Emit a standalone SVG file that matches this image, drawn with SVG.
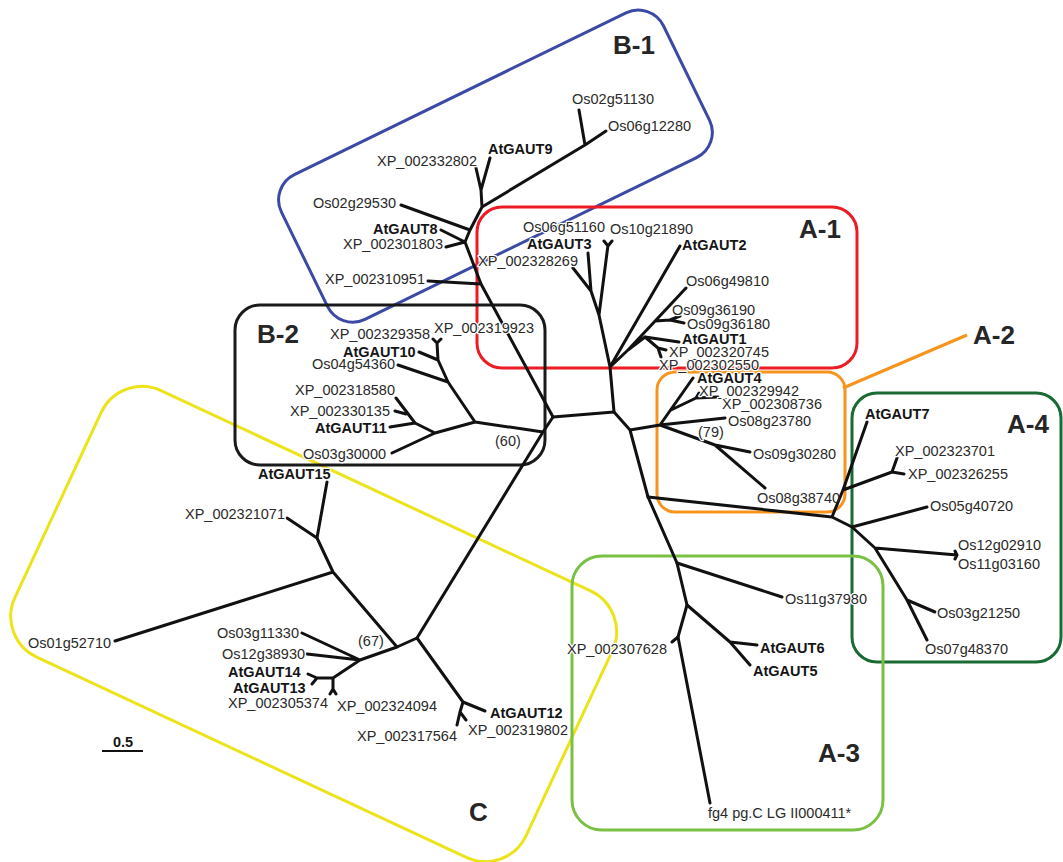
<svg xmlns="http://www.w3.org/2000/svg" width="1063" height="862" viewBox="0 0 1063 862">
<style>
.t{font-family:"Liberation Sans",Arial,sans-serif;font-size:14.5px;fill:#2a2a2a;stroke:#fff;stroke-width:2.5px;paint-order:stroke;stroke-linejoin:round}
.b{font-weight:bold;fill:#151515}
.big{font-family:"Liberation Sans",Arial,sans-serif;font-size:26px;font-weight:bold;fill:#262626}
.nh{stroke:none}
.br{fill:none;stroke:#111;stroke-width:3;stroke-linecap:round;stroke-linejoin:round}
.box{fill:none;stroke-width:3}
</style>
<rect width="1063" height="862" fill="#fff"/>
<g id="clusters">
  <g id="box-C"><rect class="box" x="266" y="286" width="564" height="294" rx="45" transform="rotate(25)" stroke="#ede31b"/></g>
  <g id="box-B1"><rect class="box" x="160" y="286" width="425" height="161" rx="28" transform="rotate(-26)" stroke="#3c4aa5"/></g>
  <g id="box-A1"><rect class="box" x="477" y="207" width="380" height="161" rx="25" stroke="#ed1c24"/></g>
  <g id="box-B2"><rect class="box" x="235" y="305" width="310" height="160" rx="25" stroke="#1a1a1a"/></g>
  <g id="box-A2"><rect class="box" x="657" y="372" width="188" height="140" rx="18" stroke="#f7941d"/><path d="M843 388 L967 335" stroke="#f7941d" stroke-width="3" fill="none"/></g>
  <g id="box-A4"><rect class="box" x="852" y="393" width="209" height="269" rx="25" stroke="#1a6a34"/></g>
  <g id="box-A3"><rect class="box" x="572" y="556" width="311" height="274" rx="30" stroke="#7ac143"/></g>
</g>
<g id="connectors" class="br">
  <path d="M553 417 L481 284 L465 242 L470 230 L482 207 L481 190 L476 168 M481 190 L490 158 M482 207 L585 145 L579 110 M585 145 L606 131 M470 230 L401 205 M465 242 L441 230 M465 242 L446 247 M481 284 L428 281"/>
  <path d="M553 417 L614 412 L610 367 L599 315 L591 291 L588 253 M591 291 L573 268 M599 315 L608 245 M604 241 L608 246 L612 241 M610 367 L680 246 M610 367 L628 350 L686 288 M655 321 L670 320 L680 316 M670 320 L684 323 M628 350 L645 337 L679 342 M645 337 L658 348 L666 350 M658 348 L661 357"/>
  <path d="M614 412 L630 430 L648 497 L677 563 L687 605 L678 637 L710 803 M630 430 L660 425 L693 378 M671 410 L696 398 L699 393 M696 398 L718 397 M660 425 L725 418 M660 425 L715 445 L750 452 M715 445 L765 488"/>
  <path d="M648 497 L832 517 L843 490 L867 422 M843 490 L892 472 L897 458 M892 472 L904 474 M832 517 L852 527 L927 507 M852 527 L875 548 L957 555 M955 551 L957 555 L955 559 M875 548 L907 600 L927 640 M907 600 L935 612"/>
  <path d="M677 563 L782 597 M687 605 L730 642 L757 645 M730 642 L750 665 M678 637 L672 642"/>
  <path d="M553 417 L543 432 L417 638 M543 432 L475 422 M475 422 L448 382 L398 365 M448 382 L438 360 L419 352 M438 360 L437 343 L433 339 M437 343 L441 339 M475 422 L435 433 L392 453 M435 433 L415 423 L390 427 M415 423 L396 398 M406 414 L395 411"/>
  <path d="M417 638 L397 647 L333 572 L317 538 L327 482 M317 538 L287 518 M333 572 L115 641 M397 647 L360 660 L302 633 M360 660 L307 654 M360 660 L333 678 L317 678 L308 674 M317 678 L312 684 M333 678 L333 691 M330 694 L333 689 L336 694 M417 638 L463 702 L485 711 M463 702 L460 712 L457 725 M460 712 L466 720"/>
  <path d="M102 751 L143 751" stroke-width="2" stroke-linecap="butt"/>
</g>
<g id="labels">
  <g id="lab-B1"><text class="big" x="613" y="54">B-1</text></g>
  <g id="lab-A1"><text class="big" x="799" y="238">A-1</text></g>
  <g id="lab-A2"><text class="big" x="973" y="344">A-2</text></g>
  <g id="lab-A4"><text class="big" x="1007" y="433">A-4</text></g>
  <g id="lab-B2"><text class="big" x="257" y="343">B-2</text></g>
  <g id="lab-A3"><text class="big" x="818" y="762">A-3</text></g>
  <g id="lab-C"><text class="big" x="469" y="821">C</text></g>
  <g id="scale"><text class="t b nh" x="113" y="747" font-size="14">0.5</text></g>
</g>
<g id="leaves">
  <g id="n1"><text class="t" x="572" y="103.5">Os02g51130</text></g>
  <g id="n2"><text class="t" x="608" y="130.5">Os06g12280</text></g>
  <g id="n3"><text class="t b" x="488" y="153.5">AtGAUT9</text></g>
  <g id="n4"><text class="t" x="377" y="165.5">XP_002332802</text></g>
  <g id="n5"><text class="t" x="313" y="207.5">Os02g29530</text></g>
  <g id="n6"><text class="t b" x="373" y="233.5">AtGAUT8</text></g>
  <g id="n7"><text class="t" x="343" y="248.5">XP_002301803</text></g>
  <g id="n8"><text class="t" x="325" y="283.5">XP_002310951</text></g>
  <g id="n9"><text class="t" x="523" y="232">Os06g51160</text></g>
  <g id="n10"><text class="t" x="610" y="233.5">Os10g21890</text></g>
  <g id="n11"><text class="t b" x="527" y="249">AtGAUT3</text></g>
  <g id="n12"><text class="t" x="478" y="265.5">XP_002328269</text></g>
  <g id="n13"><text class="t b" x="682" y="249.5">AtGAUT2</text></g>
  <g id="n14"><text class="t" x="686" y="285.5">Os06g49810</text></g>
  <g id="n15"><text class="t" x="672" y="315">Os09g36190</text></g>
  <g id="n16"><text class="t" x="687" y="329">Os09g36180</text></g>
  <g id="n17"><text class="t b" x="682" y="343.5">AtGAUT1</text></g>
  <g id="n18"><text class="t" x="669" y="357">XP_002320745</text></g>
  <g id="n19"><text class="t" x="659" y="369.5">XP_002302550</text></g>
  <g id="n20"><text class="t b" x="697" y="383">AtGAUT4</text></g>
  <g id="n21"><text class="t" x="699" y="396">XP_002329942</text></g>
  <g id="n22"><text class="t" x="722" y="409">XP_002308736</text></g>
  <g id="n23"><text class="t" x="728" y="425.5">Os08g23780</text></g>
  <g id="n24"><text class="t" x="698" y="437">(79)</text></g>
  <g id="n25"><text class="t" x="753" y="458.5">Os09g30280</text></g>
  <g id="n26"><text class="t nh" x="757" y="502.5">Os08g38740</text></g>
  <g id="n27"><text class="t b" x="865" y="418.5">AtGAUT7</text></g>
  <g id="n28"><text class="t" x="895" y="455.5">XP_002323701</text></g>
  <g id="n29"><text class="t" x="908" y="478.5">XP_002326255</text></g>
  <g id="n30"><text class="t" x="930" y="510.5">Os05g40720</text></g>
  <g id="n31"><text class="t" x="958" y="550">Os12g02910</text></g>
  <g id="n32"><text class="t" x="958" y="569">Os11g03160</text></g>
  <g id="n33"><text class="t" x="937" y="617.5">Os03g21250</text></g>
  <g id="n34"><text class="t" x="925" y="653.5">Os07g48370</text></g>
  <g id="n35"><text class="t" x="785" y="603.5">Os11g37980</text></g>
  <g id="n36"><text class="t" x="567" y="653.5">XP_002307628</text></g>
  <g id="n37"><text class="t b" x="760" y="652.5">AtGAUT6</text></g>
  <g id="n38"><text class="t b" x="753" y="675.5">AtGAUT5</text></g>
  <g id="n39"><text class="t" x="708" y="817.5" font-size="14">fg4 pg.C LG II000411*</text></g>
  <g id="n40"><text class="t" x="330" y="338.5">XP_002329358</text></g>
  <g id="n41"><text class="t" x="434" y="333">XP_002319923</text></g>
  <g id="n42"><text class="t b" x="343" y="357">AtGAUT10</text></g>
  <g id="n43"><text class="t" x="312" y="369">Os04g54360</text></g>
  <g id="n44"><text class="t" x="295" y="395">XP_002318580</text></g>
  <g id="n45"><text class="t" x="290" y="416">XP_002330135</text></g>
  <g id="n46"><text class="t b" x="315" y="432.5">AtGAUT11</text></g>
  <g id="n47"><text class="t" x="303" y="458.5">Os03g30000</text></g>
  <g id="n48"><text class="t" x="495" y="446">(60)</text></g>
  <g id="n49"><text class="t b" x="258" y="478.5">AtGAUT15</text></g>
  <g id="n50"><text class="t" x="185" y="518.5">XP_002321071</text></g>
  <g id="n51"><text class="t" x="28" y="647.5">Os01g52710</text></g>
  <g id="n52"><text class="t" x="217" y="638">Os03g11330</text></g>
  <g id="n53"><text class="t" x="358" y="646">(67)</text></g>
  <g id="n54"><text class="t" x="222" y="659">Os12g38930</text></g>
  <g id="n55"><text class="t b" x="228" y="677">AtGAUT14</text></g>
  <g id="n56"><text class="t b" x="233" y="692.5">AtGAUT13</text></g>
  <g id="n57"><text class="t" x="228" y="708">XP_002305374</text></g>
  <g id="n58"><text class="t" x="337" y="710.5">XP_002324094</text></g>
  <g id="n59"><text class="t b" x="490" y="717.5">AtGAUT12</text></g>
  <g id="n60"><text class="t" x="357" y="740.5">XP_002317564</text></g>
  <g id="n61"><text class="t" x="468" y="735">XP_002319802</text></g>
</g>
</svg>
